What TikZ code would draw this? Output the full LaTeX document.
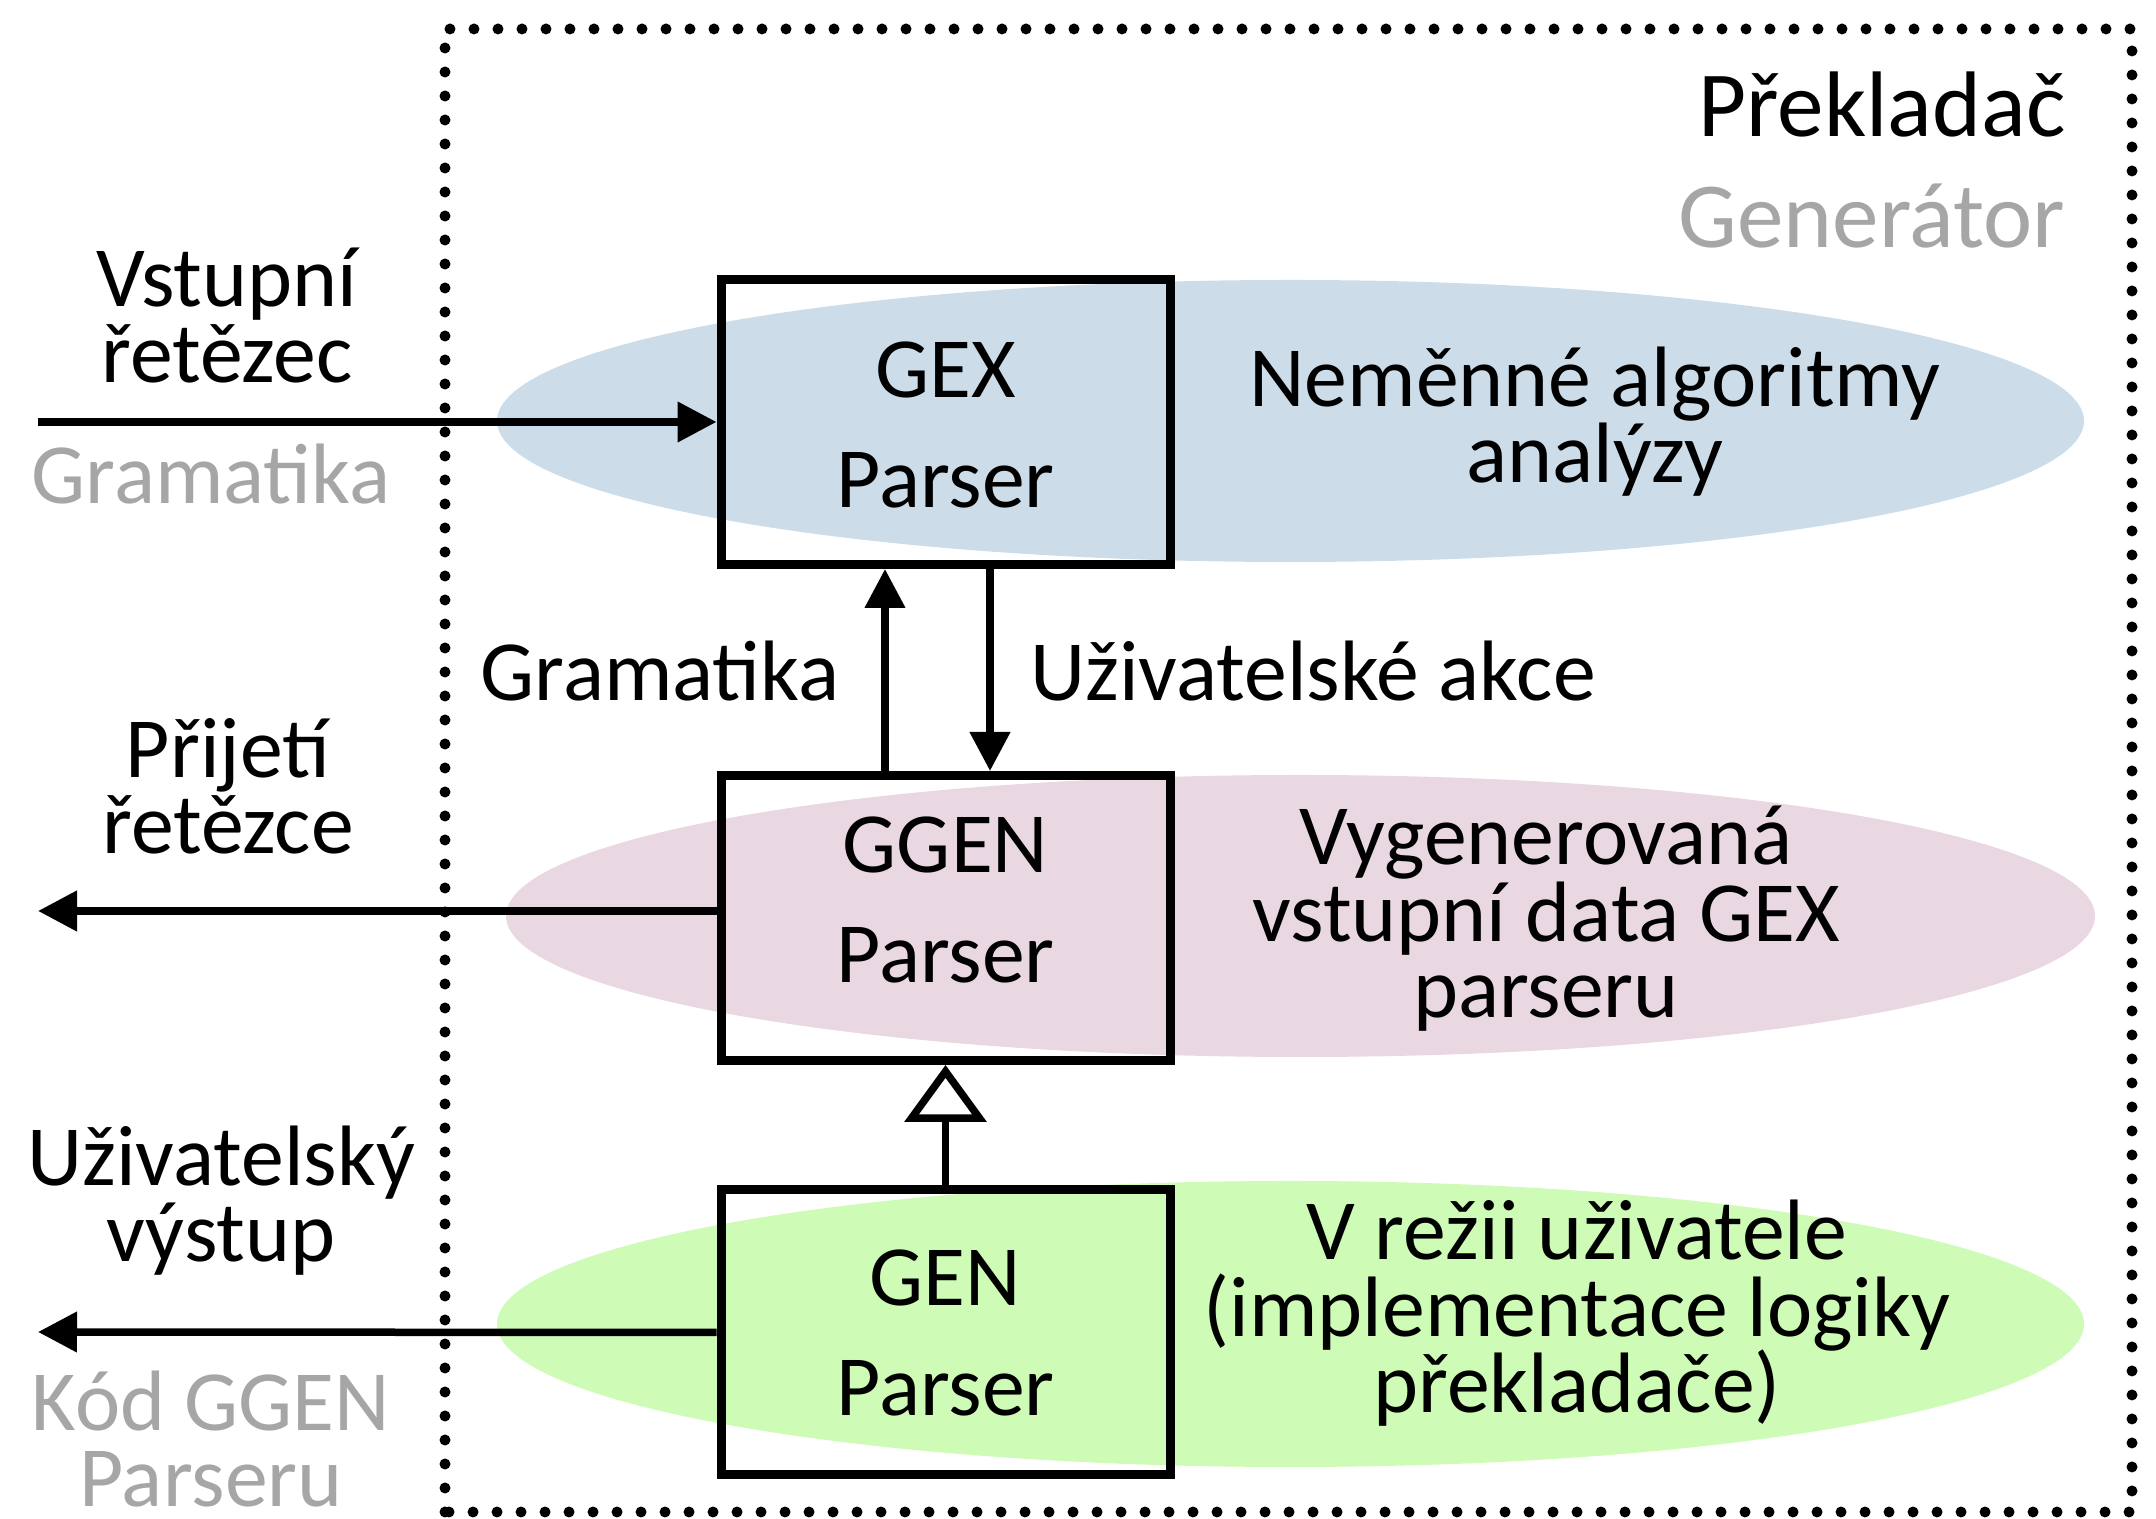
\documentclass[tikz,border=0pt]{standalone}
\usepackage{fontspec}
\setmainfont{Carlito}
\usepackage{tikz}
\usetikzlibrary{arrows.meta}

\definecolor{algblue}{HTML}{CCDDE9}
\definecolor{genpink}{HTML}{E9D7E2}
\definecolor{usrgreen}{HTML}{CEFBB5}
\definecolor{hintgray}{HTML}{A6A6A6}

% tight line spacing for the multi-line labels
\newcommand{\labelfont}{\fontsize{24.4}{21.9}\selectfont\lineskiplimit=-20pt\relax}

\begin{document}
\begin{tikzpicture}[
  parser/.style={
    draw=black,
    line width=0.9mm,
    minimum width=4.49cm,
    minimum height=2.85cm,
    align=center,
    inner sep=0pt,
    font=\fontsize{24.4}{31.3}\selectfont
  },
  txt/.style={
    align=center,
    inner sep=0pt,
    anchor=base,
    font=\labelfont
  },
  hint/.style={txt, text=hintgray},
  title/.style={anchor=base east, inner sep=0pt, font=\fontsize{26.5}{30}\selectfont},
  arrow/.style={-{Triangle[length=3.9mm, width=3.9mm]}, line width=0.75mm},
  inherit/.style={-{Triangle[open, length=5.7mm, width=8.1mm, fill=white]}, line width=0.75mm},
  frame/.style={line width=1.1mm, dash pattern=on 0pt off 2.4mm, line cap=round}
]
  \useasboundingbox (0,0) rectangle (21.56,15.19);

  % background areas
  \fill[algblue] (12.905,10.98) ellipse [x radius=7.935, y radius=1.41];
  \fill[genpink] (13.005,6.03) ellipse [x radius=7.945, y radius=1.41];
  \fill[usrgreen] (12.905,1.95) ellipse [x radius=7.935, y radius=1.43];

  \draw[frame] (4.45,0.07) rectangle (21.32,14.90);

  \node[parser] (gex) at (9.455,10.97)
    {\rule{0pt}{1.02cm}GEX\\Parser\rule[-4mm]{0pt}{4mm}};
  \node[parser] (ggen) at (9.455,6.01)
    {\rule{0pt}{0.6cm}GGEN\\Parser\rule[-4mm]{0pt}{4mm}};
  \node[parser] (gen) at (9.455,1.865)
    {\rule{0pt}{0.97cm}GEN\\Parser\rule[-4mm]{0pt}{4mm}};

  \node[title] (prekl) at (20.66,13.82) {Překladač};
  \node[title, text=hintgray] (genr) at (20.66,12.71) {Generátor};

  % left side (base = last line)
  \node[txt] (instr) at (2.27,11.36) {Vstupní\\řetězec};
  \node[hint] (ingram) at (2.11,10.15) {Gramatika};
  \node[txt] (accept) at (2.28,6.65) {Přijetí\\řetězce};
  \node[txt] (usrout) at (2.21,2.57) {Uživatelský\\výstup};
  \node[hint] (gencode) at (2.11,0.12) {Kód GGEN\\Parseru};

  \coordinate (inend) at (0.38,10.97);
  \coordinate (acceptend) at (0.38,6.08);
  \coordinate (outend) at (0.38,1.87);
  \draw[arrow] (inend) -- (gex.west);
  \draw[arrow] (ggen.west |- acceptend) -- (acceptend);
  \draw[arrow] (gen.west) -- (outend);

  % between the parsers
  \draw[arrow] ([xshift=-6.05mm]ggen.north) -- ([xshift=-6.05mm]gex.south);
  \draw[arrow] ([xshift=4.45mm]gex.south) -- ([xshift=4.45mm]ggen.north);
  \draw[inherit] (gen.north) -- (ggen.south);
  \node[txt] (gram) at (6.60,8.18) {Gramatika};
  \node[txt] (actions) at (13.13,8.18) {Uživatelské akce};

  % right side
  \node[txt] (fixed) at (15.95,10.36) {Neměnné algoritmy\\analýzy};
  \node[txt] (generated) at (15.46,5.01) {Vygenerovaná\\vstupní data GEX\\parseru};
  \node[txt] (usrlogic) at (15.77,1.06) {V režii uživatele\\(implementace logiky\\překladače)};
\end{tikzpicture}
\end{document}
